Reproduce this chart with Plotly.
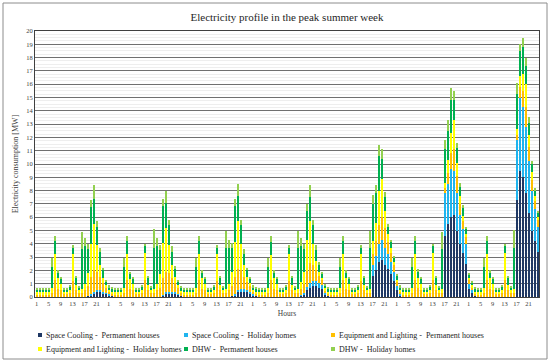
import plotly.graph_objects as go

# ---------------- data (MW, hourly, 7 days x 24 h) ----------------
HOUR_TICKS = ["1", "5", "9", "13", "17", "21"]
N_DAYS = 7

SERIES_NAMES = [
    "Space Cooling -  Permanent houses",
    "Space Cooling -  Holiday homes",
    "Equipment and Lighting -  Permanent houses",
    "Equipment and Lighting -  Holiday homes",
    "DHW -  Permanent houses",
    "DHW -  Holiday homes",
]
SERIES_COLORS = ["#1F3864", "#1FB4EE", "#FFC000", "#FFFF00", "#00B050", "#92D050"]

cooling_permanent = [
    [0, 0, 0, 0, 0, 0, 0, 0, 0, 0, 0, 0, 0, 0, 0, 0, 0, 0.05, 0.15, 0.3, 0.35, 0.35, 0.3, 0.25],
    [0.15, 0.05, 0, 0, 0, 0, 0, 0, 0, 0, 0, 0, 0, 0, 0, 0, 0, 0, 0.1, 0.25, 0.3, 0.3, 0.25, 0.2],
    [0.1, 0, 0, 0, 0, 0, 0, 0, 0, 0, 0, 0, 0, 0, 0, 0, 0, 0.05, 0.15, 0.35, 0.4, 0.4, 0.35, 0.3],
    [0.15, 0.05, 0, 0, 0, 0, 0, 0, 0, 0, 0, 0, 0, 0, 0, 0, 0.1, 0.2, 0.5, 0.7, 0.8, 0.8, 0.7, 0.6],
    [0.2, 0.05, 0, 0, 0, 0, 0, 0, 0, 0, 0, 0, 0, 0, 0, 0, 1.6, 2.0, 2.6, 2.8, 2.4, 2.1, 1.7, 1.2],
    [0.5, 0.15, 0, 0, 0, 0, 0, 0, 0, 0, 0, 0, 0, 0, 0, 0, 4.6, 5.5, 6.0, 6.2, 5.0, 4.0, 3.3, 2.5],
    [0.6, 0.3, 0.05, 0, 0, 0, 0, 0, 0, 0, 0, 0, 0, 0, 0, 0, 7.3, 9.5, 9.0, 7.8, 6.3, 5.0, 4.2, 3.4],
]
cooling_holiday = [
    [0, 0, 0, 0, 0, 0, 0, 0, 0, 0, 0, 0, 0, 0, 0, 0, 0, 0, 0.05, 0.1, 0.15, 0.15, 0.1, 0.05],
    [0.05, 0, 0, 0, 0, 0, 0, 0, 0, 0, 0, 0, 0, 0, 0, 0, 0, 0, 0.05, 0.1, 0.1, 0.1, 0.1, 0.05],
    [0, 0, 0, 0, 0, 0, 0, 0, 0, 0, 0, 0, 0, 0, 0, 0, 0, 0, 0.05, 0.15, 0.2, 0.2, 0.15, 0.1],
    [0.05, 0, 0, 0, 0, 0, 0, 0, 0, 0, 0, 0, 0, 0, 0, 0, 0.05, 0.1, 0.25, 0.35, 0.4, 0.4, 0.35, 0.3],
    [0.1, 0, 0, 0, 0, 0, 0, 0, 0, 0, 0, 0, 0, 0, 0, 0, 0.8, 1.1, 1.4, 1.5, 1.3, 1.1, 0.9, 0.7],
    [0.3, 0.05, 0, 0, 0, 0, 0, 0, 0, 0, 0, 0, 0, 0, 0, 0, 3.2, 3.0, 3.6, 3.3, 2.8, 2.2, 1.8, 1.5],
    [0.4, 0.2, 0, 0, 0, 0, 0, 0, 0, 0, 0, 0, 0, 0, 0, 0, 4.5, 5.5, 5.3, 5.0, 3.9, 3.0, 2.4, 1.9],
]
equipment_permanent = [
    [0.22, 0.22, 0.22, 0.22, 0.22, 0.3, 1.3, 0.6, 0.5, 0.25, 0.25, 0.3, 1.2, 0.5, 0.3, 0.3, 0.5, 0.75, 1.3, 1.6, 1.4, 1.0, 0.65, 0.4],
    [0.22, 0.22, 0.22, 0.22, 0.22, 0.3, 1.3, 0.6, 0.5, 0.25, 0.25, 0.3, 1.25, 0.5, 0.3, 0.3, 0.5, 0.7, 1.3, 1.55, 1.4, 1.0, 0.7, 0.4],
    [0.22, 0.22, 0.22, 0.22, 0.22, 0.3, 1.3, 0.6, 0.5, 0.25, 0.25, 0.3, 1.2, 0.5, 0.3, 0.3, 0.5, 0.8, 1.3, 1.6, 1.4, 0.9, 0.6, 0.4],
    [0.22, 0.22, 0.22, 0.22, 0.22, 0.3, 1.25, 0.6, 0.5, 0.25, 0.25, 0.3, 1.2, 0.5, 0.3, 0.3, 0.45, 0.7, 1.2, 1.5, 1.2, 0.8, 0.5, 0.35],
    [0.22, 0.22, 0.22, 0.22, 0.22, 0.3, 1.3, 0.6, 0.5, 0.25, 0.25, 0.3, 1.2, 0.5, 0.3, 0.3, 0.8, 1.1, 1.4, 1.7, 1.5, 0.9, 0.7, 0.5],
    [0.35, 0.22, 0.22, 0.22, 0.22, 0.3, 1.3, 0.65, 0.5, 0.25, 0.25, 0.3, 1.25, 0.5, 0.3, 0.3, 0.4, 0.8, 1.2, 1.6, 1.3, 0.8, 0.6, 0.5],
    [0.3, 0.25, 0.22, 0.22, 0.22, 0.3, 1.3, 0.6, 0.5, 0.25, 0.25, 0.3, 1.25, 0.5, 0.3, 0.3, 0.4, 0.8, 1.2, 1.5, 1.1, 0.8, 0.6, 0.5],
]
equipment_holiday = [
    [0.13, 0.13, 0.13, 0.13, 0.13, 0.4, 1.9, 0.8, 0.5, 0.15, 0.15, 0.25, 2.0, 0.4, 0.2, 0.3, 0.5, 1.0, 2.5, 3.5, 2.0, 0.9, 0.4, 0.2],
    [0.13, 0.13, 0.13, 0.13, 0.13, 0.4, 1.9, 0.75, 0.5, 0.15, 0.15, 0.25, 2.05, 0.4, 0.2, 0.3, 0.5, 1.0, 2.6, 3.3, 2.1, 1.0, 0.45, 0.25],
    [0.13, 0.13, 0.13, 0.13, 0.13, 0.4, 1.9, 0.8, 0.5, 0.15, 0.15, 0.25, 2.0, 0.4, 0.2, 0.3, 0.5, 1.0, 2.6, 3.6, 2.0, 0.9, 0.4, 0.25],
    [0.13, 0.13, 0.13, 0.13, 0.13, 0.4, 1.9, 0.8, 0.5, 0.15, 0.15, 0.25, 2.0, 0.4, 0.2, 0.3, 0.5, 0.9, 2.3, 3.2, 1.6, 0.7, 0.35, 0.2],
    [0.13, 0.13, 0.13, 0.13, 0.13, 0.4, 1.9, 0.8, 0.5, 0.15, 0.15, 0.25, 2.0, 0.4, 0.2, 0.3, 1.0, 1.4, 2.6, 2.9, 1.3, 0.6, 0.4, 0.25],
    [0.15, 0.13, 0.13, 0.13, 0.13, 0.4, 1.9, 0.8, 0.5, 0.15, 0.15, 0.25, 2.05, 0.4, 0.2, 0.3, 0.4, 1.0, 1.5, 2.2, 1.0, 0.6, 0.4, 0.2],
    [0.15, 0.15, 0.13, 0.13, 0.13, 0.4, 1.9, 0.8, 0.5, 0.15, 0.15, 0.25, 2.05, 0.4, 0.2, 0.3, 0.4, 0.8, 1.3, 1.7, 0.9, 0.6, 0.4, 0.2],
]
dhw_permanent = [
    [0.2, 0.2, 0.2, 0.2, 0.2, 1.55, 1.0, 0.4, 0.35, 0.2, 0.2, 0.25, 0.5, 0.5, 0.2, 3.0, 2.8, 1.8, 2.75, 1.9, 1.4, 0.95, 0.55, 0.25],
    [0.2, 0.2, 0.2, 0.2, 0.2, 1.55, 1.0, 0.4, 0.35, 0.2, 0.2, 0.25, 0.5, 0.5, 0.2, 3.1, 2.8, 1.8, 2.8, 1.9, 1.5, 1.0, 0.6, 0.25],
    [0.2, 0.2, 0.2, 0.2, 0.2, 1.55, 1.0, 0.4, 0.35, 0.2, 0.2, 0.25, 0.5, 0.5, 0.2, 3.05, 2.7, 1.8, 2.75, 1.9, 1.4, 0.8, 0.5, 0.3],
    [0.2, 0.2, 0.2, 0.2, 0.2, 1.55, 1.0, 0.4, 0.35, 0.2, 0.2, 0.25, 0.5, 0.5, 0.2, 3.05, 2.7, 1.7, 2.2, 1.8, 1.4, 0.8, 0.5, 0.25],
    [0.2, 0.2, 0.2, 0.2, 0.2, 1.55, 1.0, 0.4, 0.35, 0.2, 0.2, 0.25, 0.5, 0.5, 0.2, 3.05, 2.8, 2.2, 2.6, 1.5, 1.0, 0.6, 0.4, 0.3],
    [0.25, 0.2, 0.2, 0.2, 0.2, 1.55, 1.0, 0.45, 0.35, 0.2, 0.2, 0.25, 0.5, 0.5, 0.2, 3.0, 2.5, 2.2, 2.5, 1.5, 1.1, 0.7, 0.6, 0.4],
    [0.2, 0.2, 0.2, 0.2, 0.2, 1.55, 1.0, 0.4, 0.35, 0.2, 0.2, 0.25, 0.5, 0.5, 0.2, 3.1, 2.7, 1.9, 2.0, 1.4, 0.9, 0.6, 0.4, 0.3],
]
dhw_holiday = [
    [0.15, 0.15, 0.15, 0.15, 0.15, 0.65, 0.4, 0.2, 0.15, 0.1, 0.1, 0.1, 0.2, 0.2, 0.1, 1.3, 0.6, 0.4, 0.55, 1.0, 0.4, 0.35, 0.2, 0.15],
    [0.15, 0.15, 0.15, 0.15, 0.15, 0.65, 0.4, 0.15, 0.15, 0.1, 0.1, 0.1, 0.2, 0.2, 0.1, 1.4, 0.6, 0.4, 0.55, 0.9, 0.4, 0.4, 0.2, 0.15],
    [0.15, 0.15, 0.15, 0.15, 0.15, 0.65, 0.4, 0.2, 0.15, 0.1, 0.1, 0.1, 0.2, 0.2, 0.1, 1.35, 0.6, 0.4, 0.55, 0.9, 0.4, 0.4, 0.2, 0.15],
    [0.15, 0.15, 0.15, 0.15, 0.15, 0.65, 0.4, 0.2, 0.15, 0.1, 0.1, 0.1, 0.2, 0.2, 0.1, 1.35, 0.6, 0.4, 0.55, 0.85, 0.4, 0.4, 0.2, 0.2],
    [0.15, 0.15, 0.15, 0.15, 0.15, 0.65, 0.4, 0.2, 0.15, 0.1, 0.1, 0.1, 0.2, 0.2, 0.1, 1.35, 0.7, 0.6, 0.8, 0.7, 0.4, 0.2, 0.2, 0.15],
    [0.15, 0.15, 0.15, 0.15, 0.15, 0.65, 0.4, 0.2, 0.15, 0.1, 0.1, 0.1, 0.2, 0.2, 0.1, 1.3, 0.7, 0.8, 0.9, 0.7, 0.4, 0.3, 0.2, 0.2],
    [0.15, 0.1, 0.15, 0.15, 0.15, 0.65, 0.4, 0.2, 0.15, 0.1, 0.1, 0.1, 0.2, 0.2, 0.1, 1.35, 0.8, 0.5, 0.7, 0.6, 0.4, 0.2, 0.2, 0.2],
]

SERIES_DATA = [cooling_permanent, cooling_holiday, equipment_permanent,
               equipment_holiday, dhw_permanent, dhw_holiday]

# ---------------- figure ----------------
FONT = "Liberation Serif"
hours = list(range(1, N_DAYS * 24 + 1))
tickvals = list(range(1, N_DAYS * 24 + 1, 4))
ticktext = HOUR_TICKS * N_DAYS

# plot area 504 px wide -> exactly 3 px per hourly bar
L, R, T, B = 35, 11, 31, 66
W, H = 550, 363
pw, ph = W - L - R, H - T - B


def px_x(px):
    return (px - L) / pw


def px_y(py):
    return (H - B - py) / ph


fig = go.Figure()
for name, color, days in zip(SERIES_NAMES, SERIES_COLORS, SERIES_DATA):
    values = [v for day in days for v in day]
    fig.add_trace(go.Bar(x=hours, y=values, name=name,
                         marker=dict(color=color, line=dict(width=0))))

# legend drawn as small squares + text (3 columns x 2 rows, like the original)
LEG_COLS = [40, 186, 333]
LEG_ROWS = [335, 349]
shapes = [dict(type="rect", xref="paper", yref="paper", x0=px_x(3), x1=px_x(547),
               y0=px_y(359), y1=px_y(3), line=dict(color="#8c8c8c", width=1), layer="above")]
annotations = []
for i, (name, color) in enumerate(zip(SERIES_NAMES, SERIES_COLORS)):
    cx = LEG_COLS[i % 3]
    cy = LEG_ROWS[i // 3]
    shapes.append(dict(type="rect", xref="paper", yref="paper",
                       x0=px_x(cx - 2), x1=px_x(cx + 2), y0=px_y(cy + 2), y1=px_y(cy - 2),
                       fillcolor=color, line=dict(width=0)))
    annotations.append(dict(text=name, xref="paper", yref="paper", x=px_x(cx + 4), y=px_y(cy),
                            xanchor="left", yanchor="middle", showarrow=False,
                            font=dict(size=8, family=FONT, color="#262626")))

fig.update_layout(
    width=W, height=H,
    margin=dict(l=L, r=R, t=T, b=B),
    barmode="stack", bargap=1 / 3, showlegend=False,
    paper_bgcolor="white", plot_bgcolor="white",
    font=dict(family=FONT, color="#404040"),
    title=dict(text="Electricity profile in the peak summer week", x=0.5, xref="paper",
               y=1 - 17 / H, yanchor="middle", font=dict(family=FONT, size=11, color="#262626")),
    xaxis=dict(range=[0.5, N_DAYS * 24 + 0.5], tickmode="array", tickvals=tickvals, ticktext=ticktext,
               tickangle=0, tickfont=dict(size=6.5, family=FONT), showgrid=False, zeroline=False,
               showline=True, mirror=True, linecolor="#404040", linewidth=1, ticks="",
               title=dict(text="Hours", font=dict(size=7.5, family=FONT), standoff=4)),
    yaxis=dict(range=[0, 20], dtick=1, tickfont=dict(size=6.5, family=FONT), showgrid=True,
               gridcolor="#707070", gridwidth=1.4, zeroline=False, showline=True, mirror=True,
               linecolor="#404040", linewidth=1, ticks="",
               minor=dict(dtick=0.25, showgrid=True, gridcolor="#eeeeee", gridwidth=1),
               title=dict(text="Electricity consumption [MW]", font=dict(size=8, family=FONT), standoff=6)),
    shapes=shapes,
    annotations=annotations,
)

fig.write_html("out.html", config={"displayModeBar": False},
               post_script="document.body.style.margin='0px';")
